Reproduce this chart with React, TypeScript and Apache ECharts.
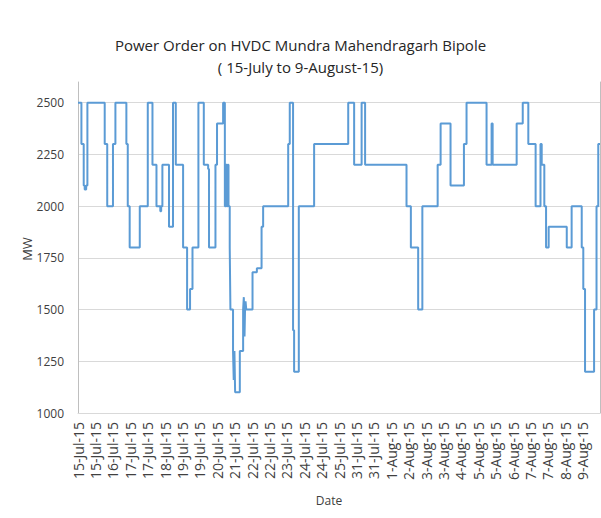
import React, { useEffect, useRef } from "react";
import * as echarts from "echarts";

// Chart title lines
const titleLines = ["Power Order on HVDC Mundra Mahendragarh Bipole", "( 15-July to 9-August-15)"];

// Tick labels of the date axis (one per label interval)
const dateLabels = [
  "15-Jul-15", "15-Jul-15", "16-Jul-15", "17-Jul-15", "17-Jul-15", "18-Jul-15",
  "19-Jul-15", "19-Jul-15", "20-Jul-15", "21-Jul-15", "22-Jul-15", "22-Jul-15",
  "23-Jul-15", "24-Jul-15", "24-Jul-15", "25-Jul-15", "31-Jul-15", "31-Jul-15",
  "1-Aug-15", "2-Aug-15", "3-Aug-15", "3-Aug-15", "4-Aug-15", "5-Aug-15",
  "5-Aug-15", "6-Aug-15", "7-Aug-15", "7-Aug-15", "8-Aug-15", "9-Aug-15",
];

// Positions (in label intervals) where the power order changes
const changeAt = [
  0, 0.196, 0.328, 0.385, 0.47, 0.54, 1.535, 1.68, 2.01, 2.15,
  2.78, 2.86, 2.97, 3.55, 4.01, 4.28, 4.51, 4.73, 4.78, 4.85,
  5.23, 5.46, 5.62, 6.04, 6.27, 6.44, 6.58, 6.92, 7.23, 7.48,
  7.53, 7.9, 7.99, 8.34, 8.44, 8.49, 8.55, 8.6, 8.65, 8.72,
  8.76, 8.91, 8.95, 8.99, 9.03, 9.3, 9.49, 9.53, 9.57, 9.6,
  9.63, 9.67, 10.03, 10.28, 10.55, 10.64, 12.08, 12.17, 12.36, 12.42,
  12.69, 13.57, 15.53, 15.87, 16.3, 16.5, 18.88, 19.13, 19.55, 19.79,
  20.67, 20.84, 21.41, 22.18, 22.33, 23.48, 23.77, 23.83, 25.21, 25.56,
  25.88, 26.3, 26.58, 26.65, 26.8, 26.9, 27.05, 28.09, 28.37, 28.95,
  29.04, 29.14, 29.66, 29.8, 29.9, 30,
];

// Power order (MW) from each change position onward
const powerOrderMW = [
  2500, 2300, 2100, 2080, 2100, 2500, 2300, 2000, 2300, 2500,
  2300, 2000, 1800, 2000, 2500, 2200, 2000, 1975, 2000, 2200,
  1900, 2500, 2200, 1800, 1500, 1600, 1800, 2500, 2200, 2180,
  1800, 2200, 2400, 2500, 2000, 2200, 2000, 2200, 2000, 1800,
  1500, 1300, 1160, 1300, 1100, 1300, 1500, 1560, 1370, 1500,
  1540, 1500, 1680, 1700, 1900, 2000, 2300, 2500, 1400, 1200,
  2000, 2300, 2500, 2200, 2500, 2200, 2000, 1800, 1500, 2000,
  2200, 2400, 2100, 2300, 2500, 2200, 2400, 2200, 2400, 2500,
  2300, 2000, 2300, 2200, 2000, 1800, 1900, 1800, 2000, 1800,
  1600, 1200, 1500, 2000, 2300, 2300,
];

const FONT = "'Open Sans', 'Noto Sans', sans-serif";

export default function App() {
  const ref = useRef<HTMLDivElement>(null);

  useEffect(() => {
    if (!ref.current) return;
    const chart = echarts.init(ref.current, undefined, { renderer: "svg" });
    const data = changeAt.map((x, i) => [x, powerOrderMW[i]]);
    chart.setOption({
      animation: false,
      backgroundColor: "#ffffff",
      textStyle: { fontFamily: FONT },
      title: {
        text: titleLines.join("\n"),
        left: "center",
        top: 29,
        textStyle: {
          fontFamily: FONT,
          fontSize: 15,
          fontWeight: "normal",
          color: "#262626",
          lineHeight: 22,
        },
      },
      grid: { left: 78, right: 1, top: 82, bottom: 105, containLabel: false },
      xAxis: {
        type: "value",
        min: 0,
        max: 30,
        interval: 1,
        axisLine: { show: true, lineStyle: { color: "#d9d9d9", width: 1 } },
        axisTick: { show: false },
        splitLine: { show: false },
        axisLabel: {
          rotate: 90,
          margin: 9,
          fontFamily: FONT,
          fontSize: 14,
          color: "#404040",
          showMaxLabel: false,
          formatter: (v: number) => dateLabels[Math.round(v)] ?? "",
        },
      },
      yAxis: [
        {
          type: "value",
          min: 1000,
          max: 2600,
          interval: 250,
          axisLine: { show: true, lineStyle: { color: "#bfbfbf", width: 1 } },
          axisTick: { show: false },
          splitLine: { show: true, showMaxLine: false, lineStyle: { color: "#d9d9d9", width: 1 } },
          axisLabel: {
            margin: 14,
            fontFamily: FONT,
            fontSize: 12,
            color: "#404040",
            showMaxLabel: false,
            formatter: (v: number) => String(v),
          },
        },
        {
          type: "value",
          position: "right",
          min: 1000,
          max: 2600,
          axisLine: { show: true, lineStyle: { color: "#bfbfbf", width: 1 } },
          axisTick: { show: false },
          axisLabel: { show: false },
          splitLine: { show: false },
        },
      ],
      graphic: [
        {
          type: "text",
          x: 27,
          y: 249,
          rotation: Math.PI / 2,
          style: {
            text: "MW",
            fontFamily: FONT,
            fontSize: 13,
            fill: "#404040",
            align: "center",
            verticalAlign: "middle",
          },
        },
        {
          type: "text",
          x: 329,
          y: 500,
          style: {
            text: "Date",
            fontFamily: FONT,
            fontSize: 12,
            fill: "#404040",
            align: "center",
            verticalAlign: "middle",
          },
        },
      ],
      series: [
        {
          type: "line",
          step: "end",
          yAxisIndex: 0,
          data,
          showSymbol: false,
          lineStyle: { color: "#5b9bd5", width: 2 },
          itemStyle: { color: "#5b9bd5" },
        },
      ],
    });
    return () => chart.dispose();
  }, []);

  return (
    <div
      ref={ref}
      style={{ position: "absolute", left: 0, top: 0, width: 601, height: 518 }}
    />
  );
}
